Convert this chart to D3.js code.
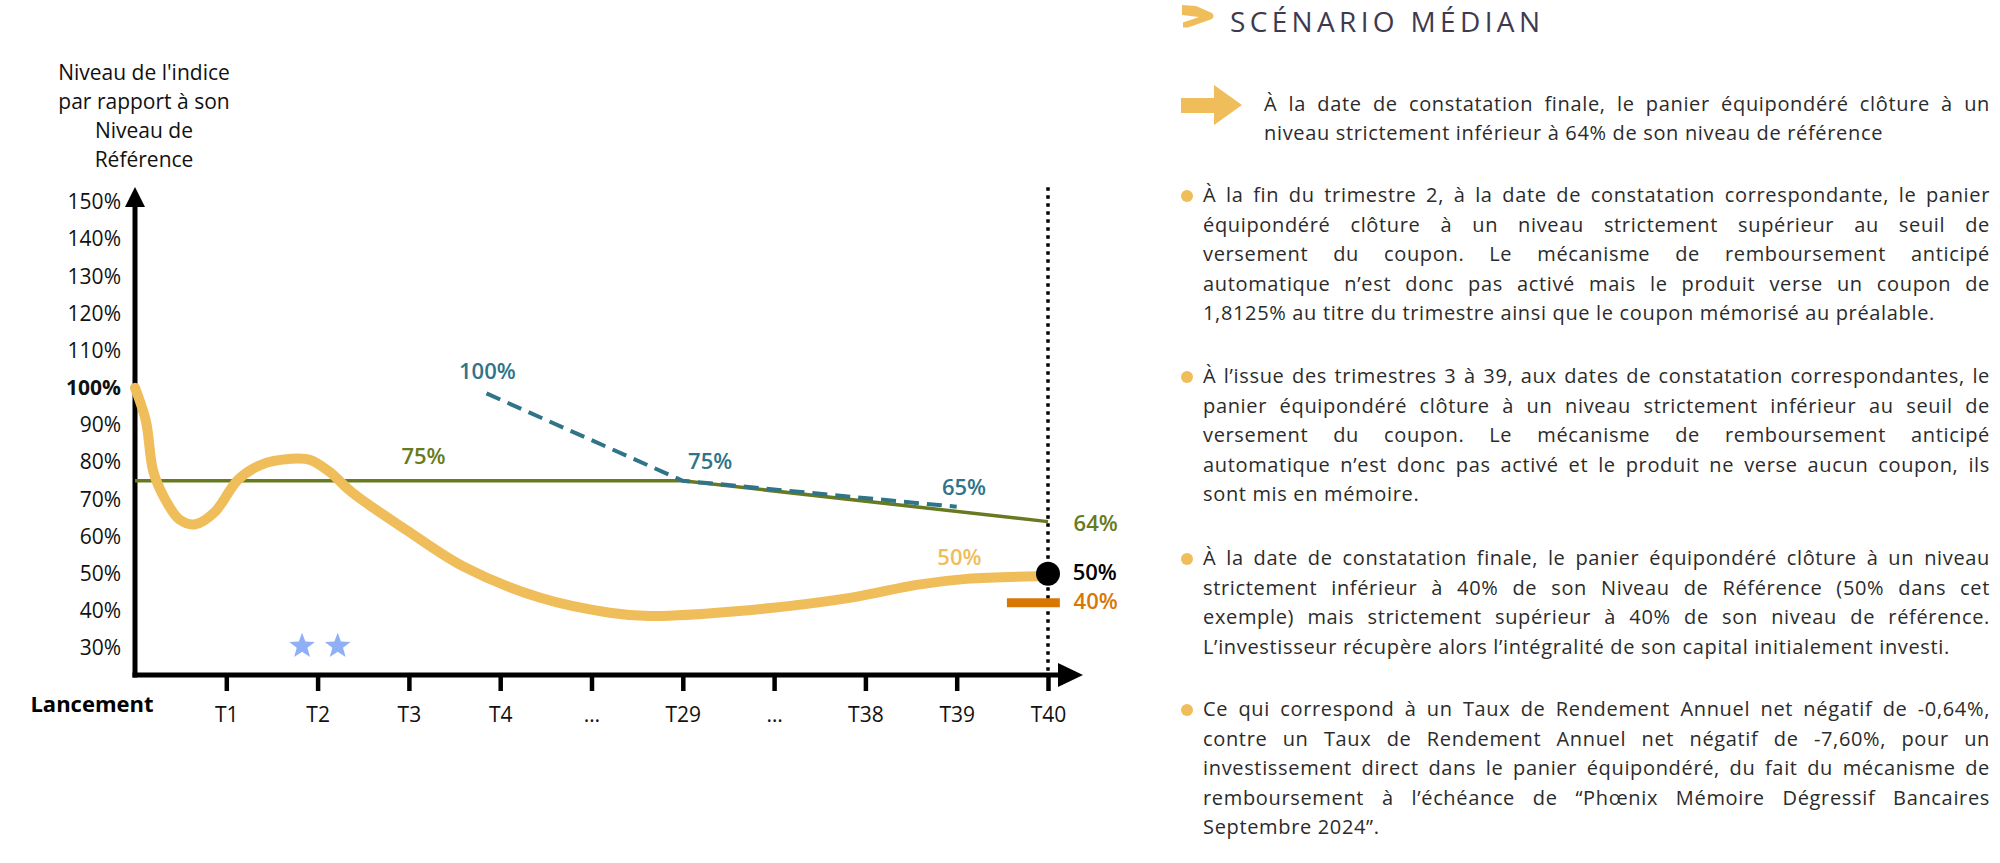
<!DOCTYPE html>
<html><head><meta charset="utf-8">
<script src="https://cdn.jsdelivr.net/npm/d3@7"></script>
<style>body{margin:0;background:#fff}svg{display:block}</style>
</head><body><svg id="c" width="2000" height="863"></svg>
<script>
// ---------- DATA ----------
const xLabels = ["T1","T2","T3","T4","…","T29","…","T38","T39","T40"];
const yTicks = [150,140,130,120,110,100,90,80,70,60,50,40,30];
// basket level path (x = position index on the time axis, y = % of reference level)
const basketX = [0,0.12,0.2,0.33,0.49,0.66,0.87,1.13,1.38,1.71,1.92,2.13,2.38,2.97,3.6,4.44,5.2,5.64,6.55,7.83,8.56,9.11,9.9];
const basketY = [100,91,77.5,70,64.5,63.3,66.5,75.3,79.3,80.9,80.6,77.4,71.8,61.8,51.9,43.5,39.5,38.6,39.8,43.5,47,48.6,49.3];
// coupon barrier (solid olive)
const couponX = [0,6,10];
const couponY = [75,75,64];
// autocall barrier (dashed teal)
const autocallX = [3.85,6,9];
const autocallY = [98.5,75,68];
const finalLevel = 50;
const capitalBarrierMark = 42.2;
const starsX = [1.83,2.22];
const starsY = [30.5,30.5];

const title = "SCÉNARIO MÉDIAN";
const headline = ["À la date de constatation finale, le panier équipondéré clôture à un",
  "niveau strictement inférieur à 64% de son niveau de référence"];
const paragraphs = [
 ["À la fin du trimestre 2, à la date de constatation correspondante, le panier",
  "équipondéré clôture à un niveau strictement supérieur au seuil de",
  "versement du coupon. Le mécanisme de remboursement anticipé",
  "automatique n’est donc pas activé mais le produit verse un coupon de",
  "1,8125% au titre du trimestre ainsi que le coupon mémorisé au préalable."],
 ["À l’issue des trimestres 3 à 39, aux dates de constatation correspondantes, le",
  "panier équipondéré clôture à un niveau strictement inférieur au seuil de",
  "versement du coupon. Le mécanisme de remboursement anticipé",
  "automatique n’est donc pas activé et le produit ne verse aucun coupon, ils",
  "sont mis en mémoire."],
 ["À la date de constatation finale, le panier équipondéré clôture à un niveau",
  "strictement inférieur à 40% de son Niveau de Référence (50% dans cet",
  "exemple) mais strictement supérieur à 40% de son niveau de référence.",
  "L’investisseur récupère alors l’intégralité de son capital initialement investi."],
 ["Ce qui correspond à un Taux de Rendement Annuel net négatif de -0,64%,",
  "contre un Taux de Rendement Annuel net négatif de -7,60%, pour un",
  "investissement direct dans le panier équipondéré, du fait du mécanisme de",
  "remboursement à l’échéance de “Phœnix Mémoire Dégressif Bancaires",
  "Septembre 2024”."]
];
const yTitle = ["Niveau de l'indice","par rapport à son","Niveau de","Référence"];

// ---------- COLORS ----------
const C = {yellow:"#efbd5a", olive:"#687a20", teal:"#2f7489", orange:"#d97706", star:"#8fb0f6", ink:"#000", title:"#3d3a50"};

const svg = d3.select("#c");
svg.append("rect").attr("width",2000).attr("height",863).attr("fill","#fff");

const x = d3.scaleLinear().domain([0,10]).range([135,1048]);
const y = d3.scaleLinear().domain([30,150]).range([648,202]);
const axisY = 675;

const FONT = "'Open Sans', sans-serif";

// y axis title
svg.append("g").selectAll("text").data(yTitle).join("text")
  .attr("x",144).attr("y",(d,i)=>80+i*29)
  .attr("text-anchor","middle").attr("font-family",FONT).attr("font-size",21).attr("fill","#111")
  .text(d=>d);

// y tick labels
const gy = svg.append("g").attr("transform","translate(135,0)")
  .call(d3.axisLeft(y).tickValues(yTicks).tickSize(0).tickPadding(14).tickFormat(d=>d+"%"));
gy.select(".domain").remove();
gy.selectAll("text").attr("font-family",FONT).attr("font-size",21).attr("fill","#111")
  .attr("font-weight",d=>d===100?700:400);

// x axis
const gx = svg.append("g").attr("transform",`translate(0,${axisY})`)
  .call(d3.axisBottom(x).tickValues(d3.range(1,11)).tickSize(16).tickPadding(16).tickFormat(d=>xLabels[d-1]));
gx.select(".domain").remove();
gx.selectAll(".tick line").attr("stroke","#000").attr("stroke-width",4.5);
gx.selectAll("text").attr("font-family",FONT).attr("font-size",21).attr("fill","#111");

// axis lines + arrows
svg.append("line").attr("x1",x(0)).attr("x2",x(0)).attr("y1",axisY+2.5).attr("y2",200).attr("stroke","#000").attr("stroke-width",5);
svg.append("path").attr("d",`M${x(0)},187 L${x(0)-10},207 L${x(0)+10},207 Z`).attr("fill","#000");
svg.append("line").attr("x1",x(0)-2.5).attr("x2",1066).attr("y1",axisY).attr("y2",axisY).attr("stroke","#000").attr("stroke-width",5);
svg.append("path").attr("d",`M1083,${axisY} L1058,${axisY-12} L1058,${axisY+12} Z`).attr("fill","#000");

svg.append("text").attr("x",92).attr("y",712).attr("text-anchor","middle")
  .attr("font-family",FONT).attr("font-size",22).attr("font-weight",700).attr("fill","#000").text("Lancement");

// dotted maturity line
svg.append("line").attr("x1",x(10)).attr("x2",x(10)).attr("y1",y(154)).attr("y2",axisY)
  .attr("stroke","#000").attr("stroke-width",3.5).attr("stroke-dasharray","3.5,4.5");

const line = d3.line().x(d=>x(d[0])).y(d=>y(d[1]));

// coupon barrier
svg.append("path").datum(d3.zip(couponX,couponY)).attr("d",line)
  .attr("fill","none").attr("stroke",C.olive).attr("stroke-width",3.5);
// autocall barrier
svg.append("path").datum(d3.zip(autocallX,autocallY)).attr("d",line)
  .attr("fill","none").attr("stroke",C.teal).attr("stroke-width",4).attr("stroke-dasharray","15,8");

// basket curve
svg.append("path").datum(d3.zip(basketX,basketY))
  .attr("d",d3.line().x(d=>x(d[0])).y(d=>y(d[1])).curve(d3.curveCatmullRom.alpha(0.5)))
  .attr("fill","none").attr("stroke",C.yellow).attr("stroke-width",10).attr("stroke-linecap","round").attr("stroke-linejoin","round");

// capital barrier mark
svg.append("line").attr("x1",x(9.55)).attr("x2",x(10.13)).attr("y1",y(capitalBarrierMark)).attr("y2",y(capitalBarrierMark))
  .attr("stroke",C.orange).attr("stroke-width",9);

// final dot
svg.append("circle").attr("cx",x(10)).attr("cy",y(finalLevel)).attr("r",12).attr("fill","#000");

// stars
function starPath(cx,cy,R,r){const p=[];for(let i=0;i<10;i++){const a=-Math.PI/2+i*Math.PI/5;const rr=i%2?r:R;p.push([cx+rr*Math.cos(a),cy+rr*Math.sin(a)]);}return "M"+p.join("L")+"Z";}
svg.append("g").selectAll("path").data(d3.zip(starsX,starsY)).join("path")
  .attr("d",d=>starPath(x(d[0]),y(d[1]),13.5,5.6)).attr("fill",C.star);

// annotations
const LF = "'Open Sans', sans-serif";
function lab(t,ix,v,col,anchor="middle"){
  svg.append("text").attr("x",x(ix)).attr("y",y(v)).attr("dy","0.36em").attr("text-anchor",anchor)
    .attr("font-family",LF).attr("font-size",22).attr("font-weight",600).attr("fill",col).text(t);
}
lab("75%",3.16,81.6,C.olive);
lab("64%",10.28,63.7,C.olive,"start");
lab("100%",3.86,104.6,C.teal);
lab("75%",6.3,80.2,C.teal);
lab("65%",9.08,73.4,C.teal);
lab("50%",9.03,54.5,C.yellow);
lab("50%",10.27,50.3,"#000","start");
lab("40%",10.28,42.5,C.orange,"start");

// ---------- RIGHT PANEL ----------
svg.append("path").attr("d","M1182,5 L1196,6 L1212,13 Q1215,16 1212,19 L1188,27.5 L1183,27.5 L1183,22.5 L1199,17 L1182,15 Z").attr("fill",C.yellow);
svg.append("text").attr("x",1230).attr("y",32).attr("font-family","'Open Sans', sans-serif").attr("font-size",28)
  .attr("fill",C.title).attr("textLength",310).attr("lengthAdjust","spacing").text(title);

svg.append("path").attr("d","M1181,98 L1214,98 L1214,85 L1242,105 L1214,125 L1214,113 L1181,113 Z").attr("fill",C.yellow);

const BF = "'Open Sans', sans-serif";
const BS = 20;
// letter spacing calibrated so the last line of paragraph 1 spans as in the reference
const probe = svg.append("text").attr("font-family",BF).attr("font-size",BS).text(paragraphs[0][4]);
const pw = probe.node().getComputedTextLength();
const LS = (732 - pw)/paragraphs[0][4].length;
probe.remove();

function para(lines,x0,x1,y0,lh){
  const g = svg.append("g").attr("font-family",BF).attr("font-size",BS).attr("font-weight",400)
    .attr("letter-spacing",LS).attr("fill","#2b2b2b");
  lines.forEach((ln,i)=>{
    const yy = y0+i*lh;
    if(i===lines.length-1){ g.append("text").attr("x",x0).attr("y",yy).text(ln); return; }
    const words = ln.split(" ");
    const ts = words.map(w=>g.append("text").attr("y",yy).text(w));
    const ws = ts.map(t=>t.node().getComputedTextLength());
    const gap = (x1-x0-d3.sum(ws))/(words.length-1);
    if(gap<3){ ts.forEach(t=>t.remove()); g.append("text").attr("x",x0).attr("y",yy).attr("textLength",x1-x0).attr("lengthAdjust","spacingAndGlyphs").text(ln); return; }
    let cx=x0; ts.forEach((t,j)=>{t.attr("x",cx); cx+=ws[j]+gap;});
  });
}
para(headline,1264,1990,111,29.4);
const paraY = [202,383,565,716];
paragraphs.forEach((p,i)=>{
  svg.append("circle").attr("cx",1187).attr("cy",paraY[i]-6).attr("r",6).attr("fill",C.yellow);
  para(p,1203,1990,paraY[i],29.6);
});
</script></body></html>
